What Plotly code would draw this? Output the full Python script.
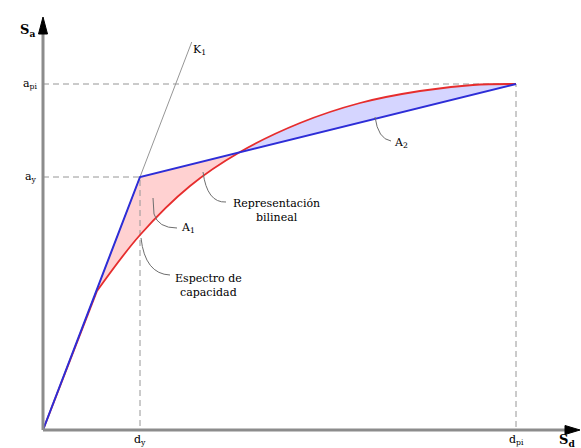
import plotly.graph_objects as go

# Bilinear idealisation parameters
d_y, a_y = 0.97, 2.53      # yield point
d_pi, a_pi = 4.73, 3.46    # performance point

# Capacity spectrum
cap_sd = [0.00, 0.54, 0.97, 1.47, 1.97, 2.57, 3.17, 3.77, 4.30, 4.73]
cap_sa = [0.00, 1.39, 1.95, 2.44, 2.78, 3.07, 3.27, 3.39, 3.45, 3.46]

# Crossing of the bilinear branch with the capacity curve
cross_sd = 1.97

bil_sd = [0.0, d_y, d_pi]
bil_sa = [0.0, a_y, a_pi]

def bil_at(x):
    if x <= d_y:
        return a_y * x / d_y
    return a_y + (x - d_y) * (a_pi - a_y) / (d_pi - d_y)

BLUE = "rgb(45,45,215)"
RED = "rgb(230,45,45)"
GREY = "rgb(140,140,140)"
FONT = "DejaVu Serif"

fig = go.Figure()

# Region A1 (capacity below bilinear)
k = 1  # kink where the curve leaves the elastic branch
a1_sd = [s for s in cap_sd[k:] if s <= cross_sd]
a1_sa = cap_sa[k:k + len(a1_sd)]
b1_sd = [a1_sd[0], d_y, cross_sd]
b1_sa = [bil_at(a1_sd[0]), a_y, bil_at(cross_sd)]
fig.add_trace(go.Scatter(x=b1_sd, y=b1_sa, mode="lines", line=dict(width=0),
                         hoverinfo="skip", showlegend=False))
fig.add_trace(go.Scatter(x=a1_sd, y=a1_sa, mode="lines", line=dict(width=0, shape="spline"),
                         fill="tonexty", fillcolor="rgba(255,185,185,0.65)",
                         hoverinfo="skip", showlegend=False))

# Region A2 (capacity above bilinear)
i2 = cap_sd.index(cross_sd)
a2_sd = cap_sd[i2:]
a2_sa = cap_sa[i2:]
fig.add_trace(go.Scatter(x=[cross_sd, d_pi], y=[bil_at(cross_sd), a_pi], mode="lines",
                         line=dict(width=0), hoverinfo="skip", showlegend=False))
fig.add_trace(go.Scatter(x=a2_sd, y=a2_sa, mode="lines", line=dict(width=0, shape="spline"),
                         fill="tonexty", fillcolor="rgba(195,195,255,0.7)",
                         hoverinfo="skip", showlegend=False))

# Guide lines
dash = dict(color="rgb(150,150,150)", width=1, dash="6px,4px")
fig.add_trace(go.Scatter(x=[0, d_pi, d_pi], y=[a_pi, a_pi, 0], mode="lines", line=dash,
                         hoverinfo="skip", showlegend=False))
fig.add_trace(go.Scatter(x=[0, d_y, d_y], y=[a_y, a_y, 0], mode="lines", line=dash,
                         hoverinfo="skip", showlegend=False))

# Initial stiffness K1
k1_top = 3.88
fig.add_trace(go.Scatter(x=[0, k1_top * d_y / a_y], y=[0, k1_top], mode="lines",
                         line=dict(color="rgb(150,150,150)", width=1),
                         hoverinfo="skip", showlegend=False))

# Capacity spectrum
fig.add_trace(go.Scatter(x=cap_sd[:k + 1], y=cap_sa[:k + 1], mode="lines",
                         line=dict(color=RED, width=1.8), hoverinfo="skip", showlegend=False))
fig.add_trace(go.Scatter(x=cap_sd[k:], y=cap_sa[k:], mode="lines",
                         line=dict(color=RED, width=1.8, shape="spline"),
                         hoverinfo="skip", showlegend=False))

# Bilinear representation
fig.add_trace(go.Scatter(x=bil_sd, y=bil_sa, mode="lines",
                         line=dict(color=BLUE, width=2), hoverinfo="skip", showlegend=False))

LEAD = dict(color="rgb(110,110,110)", width=1)
shapes = [
    # axes
    dict(type="line", x0=0, y0=0, x1=0, y1=3.98, line=dict(color=GREY, width=3)),
    dict(type="line", x0=0, y0=0, x1=5.26, y1=0, line=dict(color=GREY, width=3)),
    dict(type="path", path="M 0 4.13 L -0.045 3.96 L 0.045 3.96 Z",
         fillcolor="black", line=dict(color="black", width=1)),
    dict(type="path", path="M 5.37 0 L 5.22 0.045 L 5.22 -0.045 Z",
         fillcolor="black", line=dict(color="black", width=1)),
    # leaders
    dict(type="path", path="M 1.60 2.58 Q 1.64 2.27 1.83 2.28", line=LEAD),
    dict(type="path", path="M 0.98 1.92 Q 1.02 1.56 1.27 1.55", line=LEAD),
    dict(type="path", path="M 1.10 2.32 L 1.11 2.16 Q 1.15 2.02 1.34 2.02", line=LEAD),
    dict(type="path", path="M 3.32 3.13 Q 3.35 2.91 3.48 2.89", line=LEAD),
]

def txt(x, y, t, size=11, xa="center", ya="middle", bold=False):
    return dict(x=x, y=y, xref="x", yref="y", text=f"<b>{t}</b>" if bold else t,
                showarrow=False, xanchor=xa, yanchor=ya,
                font=dict(family=FONT, size=size, color="black"))

annotations = [
    txt(-0.16, 4.00, "S<sub>a</sub>", size=13, bold=True),
    txt(-0.04, a_pi, "a<sub>pi</sub>", size=11, xa="right"),
    txt(-0.04, a_y, "a<sub>y</sub>", size=11, xa="right"),
    txt(d_y, -0.10, "d<sub>y</sub>", size=11),
    txt(d_pi, -0.10, "d<sub>pi</sub>", size=11),
    txt(5.24, -0.10, "S<sub>d</sub>", size=13, bold=True),
    txt(1.56, 3.80, "K<sub>1</sub>", size=11),
    txt(1.45, 2.02, "A<sub>1</sub>", size=11),
    txt(2.33, 2.20, "Representación<br>bilineal", size=11),
    txt(1.65, 1.45, "Espectro de<br>capacidad", size=11),
    txt(3.58, 2.87, "A<sub>2</sub>", size=11),
]

fig.update_layout(
    width=581, height=448,
    margin=dict(l=0, r=0, t=0, b=0),
    paper_bgcolor="white", plot_bgcolor="white",
    xaxis=dict(range=[-0.43, 5.38], visible=False, fixedrange=True),
    yaxis=dict(range=[-0.18, 4.30], visible=False, fixedrange=True),
    shapes=shapes, annotations=annotations, showlegend=False,
)

fig.write_html("out.html")
